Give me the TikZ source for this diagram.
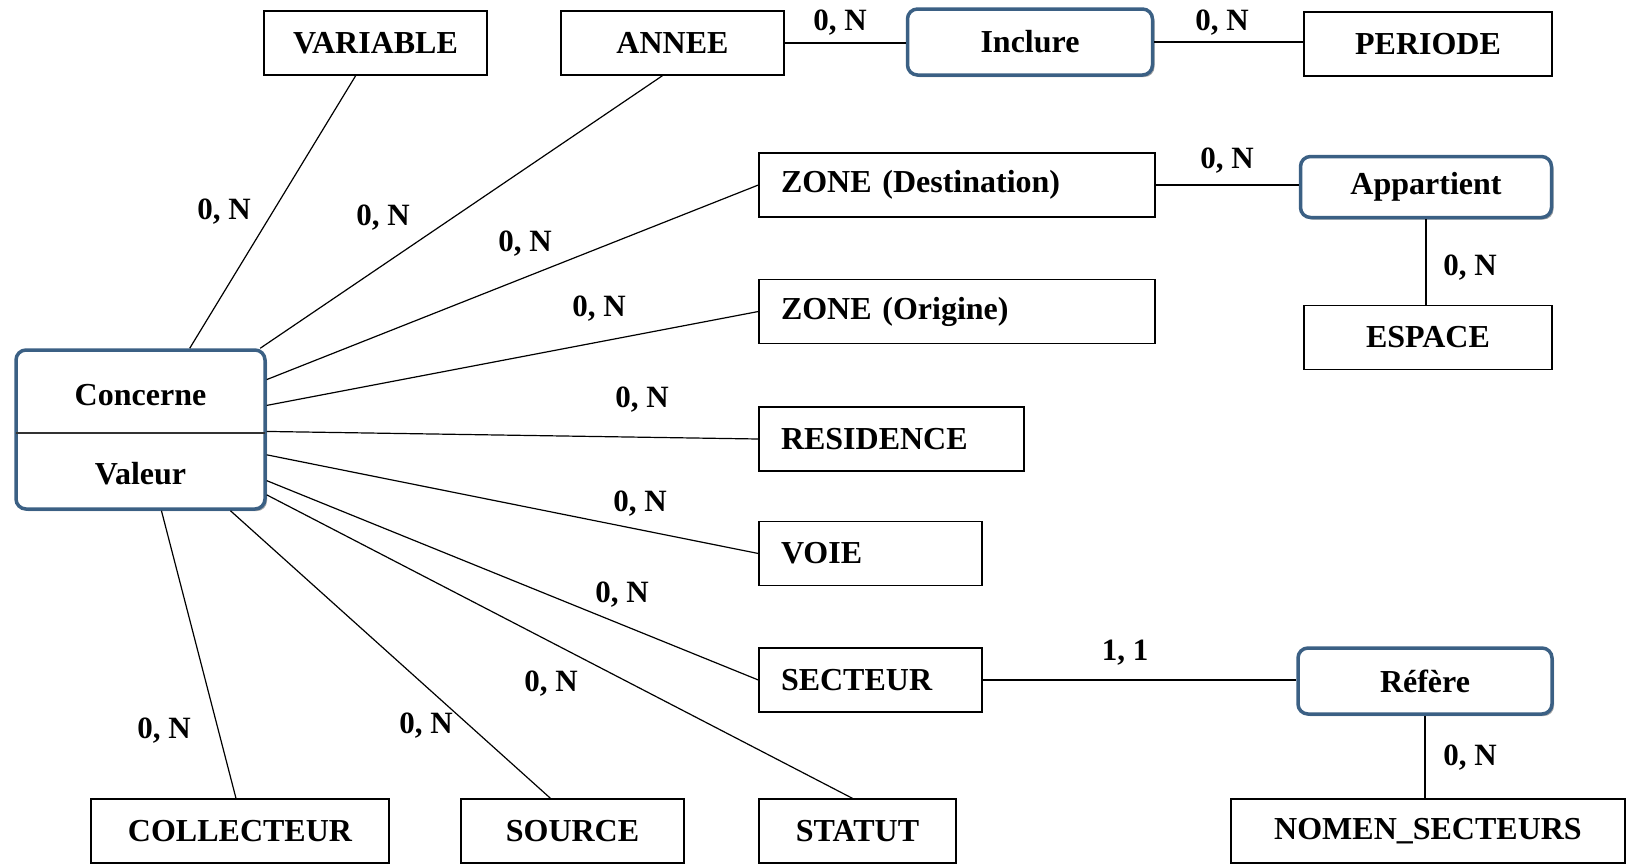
\documentclass[tikz,border=0pt]{standalone}
\usepackage{fontspec}
\setmainfont{Liberation Serif}
\usepackage{xcolor}
\usetikzlibrary{shadows}
\definecolor{bleuasso}{RGB}{59,96,132}

\begin{document}
\begin{tikzpicture}[x=1pt,y=-1pt,
    entite/.style={draw, line width=1.3pt, minimum height=64pt, inner sep=0pt,
        font=\fontsize{32}{38}\selectfont\bfseries},
    entgauche/.style={entite, text width=#1, inner xsep=22pt, align=left},
    relation/.style={draw=bleuasso, line width=3.5pt, rounded corners=10pt, fill=white,
        inner sep=0pt, font=\fontsize{32}{38}\selectfont\bfseries,
        drop shadow={shadow xshift=2pt, shadow yshift=-2pt, fill=gray!70, opacity=1}},
    card/.style={inner sep=0pt, font=\fontsize{31}{36}\selectfont\bfseries},
    lien/.style={line width=1.2pt}]
    \useasboundingbox (0,0) rectangle (1626,863);

    % Association centrale
    \node[relation, minimum width=249pt, minimum height=159pt] (concerne) at (140.5,429.5) {};
    \draw[line width=1.5pt, black!80] (16,433) -- (265,433);
    \node[card, font=\fontsize{32}{38}\selectfont\bfseries] (txtconcerne) at (140.5,395) {Concerne};
    \node[card, font=\fontsize{32}{38}\selectfont\bfseries] (txtvaleur) at (140.5,474) {Valeur};

    % Entites
    \node[entite, minimum width=223pt] (variable) at (375.5,43) {VARIABLE};
    \node[entite, minimum width=223pt] (annee) at (672.5,43) {ANNEE};
    \node[entite, minimum width=248pt] (periode) at (1428,44) {PERIODE};
    \node[entgauche=352pt] (zdest) at (957,185) {ZONE (Destination)};
    \node[entgauche=352pt] (zorig) at (957,311.5) {ZONE (Origine)};
    \node[entite, minimum width=248pt] (espace) at (1428,337.5) {ESPACE};
    \node[entgauche=221pt] (residence) at (891.5,439) {RESIDENCE};
    \node[entgauche=179pt] (voie) at (870.5,553.5) {VOIE};
    \node[entgauche=179pt] (secteur) at (870.5,680) {SECTEUR};
    \node[entite, minimum width=298pt] (collecteur) at (240,831) {COLLECTEUR};
    \node[entite, minimum width=223pt] (source) at (572.5,831) {SOURCE};
    \node[entite, minimum width=197pt] (statut) at (857.5,831) {STATUT};
    \node[entite, minimum width=394pt] (nomen) at (1428,831) {NOMEN\_SECTEURS};

    % Autres associations
    \node[relation, minimum width=245pt, minimum height=66pt] (inclure) at (1030,42) {Inclure};
    \node[relation, minimum width=251pt, minimum height=61pt] (appartient) at (1426,187) {Appartient};
    \node[relation, minimum width=254pt, minimum height=66pt] (refere) at (1425,681) {R\'ef\`ere};

    % Liens vers Concerne
    \draw[lien] (variable) -- (concerne);
    \draw[lien] ([xshift=-10pt]annee.south) -- (concerne);
    \foreach \e in {zdest,zorig,residence,voie,secteur} {
        \draw[lien] (\e.west) -- (concerne);
    }
    \draw[lien] ([xshift=-5pt]statut.north) -- (concerne);
    \draw[lien] ([xshift=-22pt]source.north) -- (concerne);
    \draw[lien] ([xshift=-4pt]collecteur.north) -- (concerne);

    % Liens des autres associations
    \draw[lien] (annee.east) -- (annee.east -| inclure.west);
    \draw[lien] (inclure.east) -- (inclure.east -| periode.west);
    \draw[lien] (zdest.east) -- (zdest.east -| appartient.west);
    \draw[lien] (appartient.south) -- (appartient.south |- espace.north);
    \draw[lien] (secteur.east) -- (secteur.east -| refere.west);
    \draw[lien] (refere.south) -- (refere.south |- nomen.north);

    % Cardinalites
    \node[card] (c1) at (224,212) {0, N};
    \node[card] (c2) at (383,218) {0, N};
    \node[card] (c3) at (525,244) {0, N};
    \node[card] (c4) at (599,309) {0, N};
    \node[card] (c5) at (642,400) {0, N};
    \node[card] (c6) at (640,504) {0, N};
    \node[card] (c7) at (622,595) {0, N};
    \node[card] (c8) at (551,684) {0, N};
    \node[card] (c9) at (426,726) {0, N};
    \node[card] (c10) at (164,731) {0, N};
    \node[card] (c11) at (840,23) {0, N};
    \node[card] (c12) at (1222,23) {0, N};
    \node[card] (c13) at (1227,161) {0, N};
    \node[card] (c14) at (1470,268) {0, N};
    \node[card] (c15) at (1125,653) {1, 1};
    \node[card] (c16) at (1470,758) {0, N};
\end{tikzpicture}
\end{document}
